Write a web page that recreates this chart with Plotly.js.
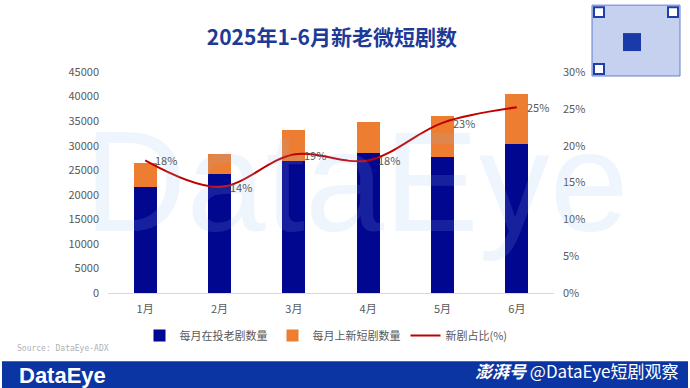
<!DOCTYPE html>
<html>
<head>
<meta charset="utf-8">
<script src="https://cdn.plot.ly/plotly-3.0.1.min.js"></script>
<style>html,body{margin:0;padding:0;background:#fff;}#chart{width:690px;height:388px;}</style>
</head>
<body>
<div id="chart"></div>
<script>
// ---- data ----
var months = ['1月','2月','3月','4月','5月','6月'];
var oldDramas = [21650, 24170, 26930, 28490, 27740, 30260];
var newDramas = [4750, 4060, 6230, 6240, 8330, 10220];
var newShare = [18.0, 14.4, 18.8, 18.0, 23.1, 25.2];
var shareLabels = ['18%','14%','19%','18%','23%','25%'];
var seriesNames = ['每月在投老剧数量','每月上新短剧数量','新剧占比(%)'];

// ---- layout helpers (pixel -> paper) ----
var W = 690, H = 388, L = 108, R = 554, T = 72, B = 293.5;
function px(x){ return (x - L) / (R - L); }
function py(y){ return (B - y) / (B - T); }

var FONT = '"Noto Sans CJK SC", "Noto Sans", sans-serif';

var traces = [
  {type:'bar', x:months, y:oldDramas, name:seriesNames[0], marker:{color:'#020790'}, yaxis:'y', hoverinfo:'skip'},
  {type:'bar', x:months, y:newDramas, name:seriesNames[1], marker:{color:'#ED7D31'}, yaxis:'y', hoverinfo:'skip'},
  {type:'scatter', mode:'lines', x:months, y:newShare, name:seriesNames[2], yaxis:'y2',
   line:{color:'#C00000', width:2, shape:'spline', smoothing:1}, hoverinfo:'skip'}
];

var annotations = [
  // watermark (drawn first so other texts sit above it)
  {text:'DataEye', xref:'paper', yref:'paper', x:px(356), y:py(182), xanchor:'center', yanchor:'middle',
   showarrow:false, font:{family:'Liberation Sans, Arial, sans-serif', size:142, color:'rgba(150,190,240,0.15)'}},
  {text:'Source: DataEye-ADX', xref:'paper', yref:'paper', x:px(15), y:py(349), xanchor:'left', yanchor:'middle',
   showarrow:false, font:{family:'DejaVu Sans Mono, monospace', size:8, color:'#b0b0b0'}},
  {text:'DataEye', xref:'paper', yref:'paper', x:px(17), y:py(376), xanchor:'left', yanchor:'middle',
   showarrow:false, font:{family:'Liberation Sans, Arial, sans-serif', size:22, color:'#ffffff', weight:'bold'}},
  {text:'<b><i>澎湃号</i></b> @DataEye短剧观察', xref:'paper', yref:'paper', x:px(681), y:py(371), xanchor:'right', yanchor:'middle',
   showarrow:false, font:{family:FONT, size:17, color:'#ffffff'}}
];
// percentage labels next to the line points
for (var i = 0; i < months.length; i++) {
  annotations.push({text:shareLabels[i], xref:'x', yref:'y2', x:months[i], y:newShare[i],
    xanchor:'left', yanchor:'middle', xshift:8, showarrow:false,
    font:{family:FONT, size:11, color:'#595959'}});
}

var layout = {
  width:W, height:H,
  margin:{l:L, r:W-R, t:T, b:H-B, pad:0},
  paper_bgcolor:'#fff', plot_bgcolor:'rgba(0,0,0,0)',
  font:{family:FONT, color:'#595959', size:11},
  barmode:'stack', bargap:0.69,
  showlegend:true,
  title:{text:'2025年1-6月新老微短剧数', font:{family:FONT, size:21, color:'#1c3a96', weight:'bold'},
         x:0.481, xanchor:'center', xref:'container', y:1-38/H, yanchor:'middle', yref:'container'},
  xaxis:{type:'category', showgrid:false, zeroline:false, showline:true, linecolor:'#d9d9d9', linewidth:1,
         ticks:'', tickfont:{size:11, color:'#595959'}, ticklabelstandoff:6, fixedrange:true},
  yaxis:{range:[0,45000], dtick:5000, tickformat:'d', showgrid:false, zeroline:false, showline:false, ticks:'',
         tickfont:{size:11, color:'#595959'}, ticklabelstandoff:8, fixedrange:true},
  yaxis2:{range:[0,30], dtick:5, ticksuffix:'%', overlaying:'y', side:'right', showgrid:false, zeroline:false,
          showline:false, ticks:'', tickfont:{size:11, color:'#595959'}, ticklabelstandoff:8, fixedrange:true},
  legend:{orientation:'h', x:px(326), xanchor:'center', y:py(336), yanchor:'middle',
          font:{size:11, color:'#595959'}, itemwidth:30, traceorder:'normal', bgcolor:'rgba(0,0,0,0)',
          tracegroupgap:0},
  shapes:[
    // bottom banner
    {type:'rect', xref:'paper', yref:'paper', x0:px(2), x1:px(688), y0:py(389), y1:py(362),
     fillcolor:'#0b35a3', line:{width:0}, layer:'above'},
    // QR code placeholder
    {type:'rect', xref:'paper', yref:'paper', x0:px(592), x1:px(680), y0:py(76), y1:py(5),
     fillcolor:'#c5d1ef', line:{color:'#5f7ed0', width:1}, layer:'above'},
    {type:'rect', xref:'paper', yref:'paper', x0:px(594), x1:px(604), y0:py(17), y1:py(7),
     fillcolor:'#fff', line:{color:'#1f3fa8', width:2}, layer:'above'},
    {type:'rect', xref:'paper', yref:'paper', x0:px(668), x1:px(678), y0:py(17), y1:py(7),
     fillcolor:'#fff', line:{color:'#1f3fa8', width:2}, layer:'above'},
    {type:'rect', xref:'paper', yref:'paper', x0:px(594), x1:px(604), y0:py(74), y1:py(64),
     fillcolor:'#fff', line:{color:'#1f3fa8', width:2}, layer:'above'},
    {type:'rect', xref:'paper', yref:'paper', x0:px(623), x1:px(641), y0:py(51), y1:py(33),
     fillcolor:'#1a3aa8', line:{width:0}, layer:'above'}
  ],
  annotations:annotations
};

Plotly.newPlot('chart', traces, layout, {displayModeBar:false, staticPlot:true});
</script>
</body>
</html>
